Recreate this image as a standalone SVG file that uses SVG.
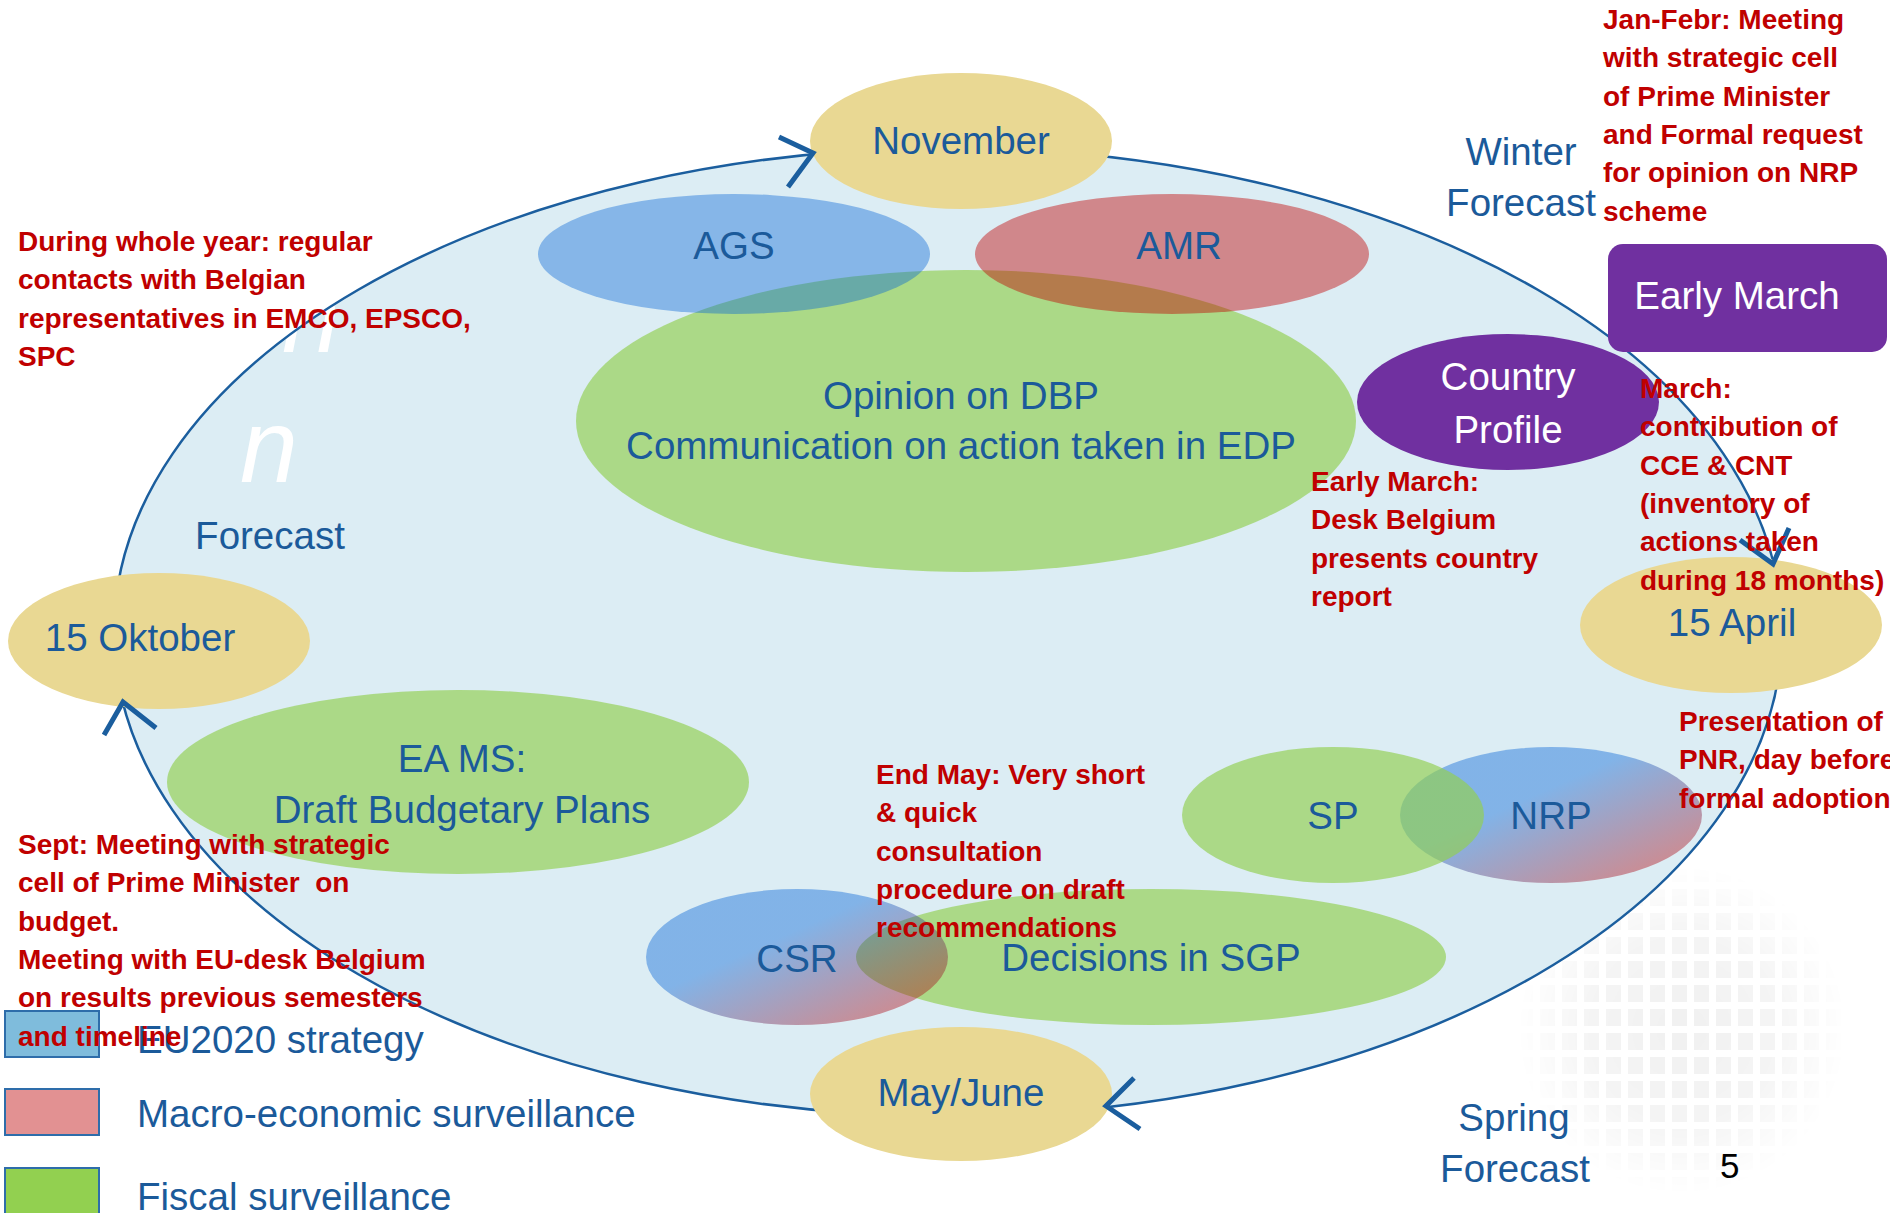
<svg xmlns="http://www.w3.org/2000/svg" width="1890" height="1213" viewBox="0 0 1890 1213">
  <defs>
    <style>
      .lbl{font-family:"Liberation Sans",Arial,sans-serif;font-size:38.5px;fill:#1B5A9A;text-anchor:middle}
      .left{text-anchor:start}
      .wht{fill:#FFFFFF}
      .note{font-family:"Liberation Sans",Arial,sans-serif;font-weight:bold;font-size:28px;fill:#C00000}
      .month{fill:#E9D893}
      .green{fill:#92D050;fill-opacity:0.67}
      .blue{fill:#0563D6;fill-opacity:0.4}
      .red{fill:#C00000;fill-opacity:0.43}
      .mix{fill:url(#mixGrad);fill-opacity:0.42}
      .purple{fill:#7030A0}
      .chev{fill:none;stroke:#1B5E9E;stroke-width:5}
      .key{stroke:#2E6DAA;stroke-width:2}
    </style>
    <linearGradient id="mixGrad" x1="0" y1="0" x2="1" y2="1">
      <stop offset="0.4" stop-color="#0563D6"/>
      <stop offset="0.9" stop-color="#C00000"/>
    </linearGradient>
    <pattern id="tiles" width="22" height="24" patternUnits="userSpaceOnUse" x="1515" y="862">
      <rect x="3" y="3" width="15" height="17" fill="#000"/>
    </pattern>
    <radialGradient id="globeFade">
      <stop offset="0" stop-color="#fff" stop-opacity="1"/>
      <stop offset="0.55" stop-color="#fff" stop-opacity="0.75"/>
      <stop offset="1" stop-color="#fff" stop-opacity="0"/>
    </radialGradient>
    <mask id="globeMask">
      <circle cx="1682" cy="1030" r="168" fill="url(#globeFade)"/>
    </mask>
  </defs>

  <rect width="1890" height="1213" fill="#FFFFFF"/>

  <!-- faint globe watermark -->
  <circle cx="1682" cy="1030" r="168" fill="url(#tiles)" opacity="0.055" mask="url(#globeMask)"/>

  <!-- annual cycle area -->
  <g id="cycle-area">
    <ellipse cx="948" cy="632" rx="834" ry="484" fill="#DCEDF4"/>
    <text x="282" y="352" font-family="Liberation Sans, Arial, sans-serif" font-style="italic" font-size="104" fill="#FFFFFF">n</text>
    <text x="240" y="482" font-family="Liberation Sans, Arial, sans-serif" font-style="italic" font-size="104" fill="#FFFFFF">n</text>
  </g>

  <!-- surveillance topics -->
  <g id="opinion-dbp">
    <ellipse class="green" cx="966" cy="421" rx="390" ry="151"/>
    <text class="lbl" x="961" y="409">Opinion on DBP</text>
    <text class="lbl" x="961" y="459">Communication on action taken in EDP</text>
  </g>
  <g id="ags">
    <ellipse class="blue" cx="734" cy="254" rx="196" ry="60"/>
    <text class="lbl" x="734" y="259">AGS</text>
  </g>
  <g id="amr">
    <ellipse class="red" cx="1172" cy="254" rx="197" ry="60"/>
    <text class="lbl" x="1179" y="259">AMR</text>
  </g>
  <g id="draft-budgetary-plans">
    <ellipse class="green" cx="458" cy="782" rx="291" ry="92"/>
    <text class="lbl" x="462" y="772">EA MS:</text>
    <text class="lbl" x="462" y="823">Draft Budgetary Plans</text>
  </g>
  <g id="decisions-sgp">
    <ellipse class="green" cx="1151" cy="957" rx="295" ry="68"/>
    <text class="lbl" x="1151" y="971">Decisions in SGP</text>
  </g>
  <g id="csr">
    <ellipse class="mix" cx="797" cy="957" rx="151" ry="68"/>
    <text class="lbl" x="797" y="972">CSR</text>
  </g>
  <g id="nrp">
    <ellipse class="mix" cx="1551" cy="815" rx="151" ry="68"/>
    <text class="lbl" x="1551" y="829">NRP</text>
  </g>
  <g id="sp">
    <ellipse class="green" cx="1333" cy="815" rx="151" ry="68"/>
    <text class="lbl" x="1333" y="829">SP</text>
  </g>

  <!-- cycle outline -->
  <g id="connectors">
    <ellipse cx="948" cy="632" rx="834" ry="484" fill="none" stroke="#1B5E9E" stroke-width="2.5"/>
  </g>

  <g id="country-profile">
    <ellipse class="purple" cx="1508" cy="402" rx="151" ry="68"/>
    <text class="lbl wht" x="1508" y="390">Country</text>
    <text class="lbl wht" x="1508" y="443">Profile</text>
  </g>
  <g id="early-march">
    <rect class="purple" x="1608" y="244" width="279" height="108" rx="15"/>
    <text class="lbl wht" x="1737" y="309">Early March</text>
  </g>

  <!-- months -->
  <g id="november">
    <ellipse class="month" cx="961" cy="141" rx="151" ry="68"/>
    <text class="lbl" x="961" y="154">November</text>
  </g>
  <g id="oktober">
    <ellipse class="month" cx="159" cy="641" rx="151" ry="68"/>
    <text class="lbl" x="140" y="651">15 Oktober</text>
  </g>
  <g id="april">
    <ellipse class="month" cx="1731" cy="625" rx="151" ry="68"/>
    <text class="lbl" x="1732" y="636">15 April</text>
  </g>
  <g id="may-june">
    <ellipse class="month" cx="961" cy="1094" rx="151" ry="67"/>
    <text class="lbl" x="961" y="1106">May/June</text>
  </g>

  <!-- arrowheads on the cycle -->
  <g id="arrowheads">
    <polyline class="chev" points="779,137 813,153 788,187"/>
    <polyline class="chev" points="1740,540 1773,564 1789,528"/>
    <polyline class="chev" points="1134,1078 1106,1106 1140,1129"/>
    <polyline class="chev" points="104,735 123,702 156,728"/>
  </g>

  <!-- forecasts -->
  <g id="forecasts">
    <text class="lbl" x="1521" y="165">Winter</text>
    <text class="lbl" x="1521" y="216">Forecast</text>
    <text class="lbl" x="270" y="549">Forecast</text>
    <text class="lbl" x="1514" y="1131">Spring</text>
    <text class="lbl" x="1515" y="1182">Forecast</text>
  </g>

  <!-- legend -->
  <g id="legend">
    <rect class="key" x="5" y="1011" width="94" height="46" fill="#7FBCDC"/>
    <rect class="key" x="5" y="1089" width="94" height="46" fill="#E29192"/>
    <rect class="key" x="5" y="1168" width="94" height="46" fill="#92D050"/>
    <text class="lbl left" x="137" y="1053">EU2020 strategy</text>
    <text class="lbl left" x="137" y="1127">Macro-economic surveillance</text>
    <text class="lbl left" x="137" y="1210">Fiscal surveillance</text>
  </g>

  <text x="1720" y="1178" font-family="Liberation Sans, Arial, sans-serif" font-size="35" fill="#000000">5</text>

  <!-- notes -->
  <g id="notes">
    <text class="note">
      <tspan x="18" y="251">During whole year: regular</tspan>
      <tspan x="18" y="289.3">contacts with Belgian</tspan>
      <tspan x="18" y="327.6">representatives in EMCO, EPSCO,</tspan>
      <tspan x="18" y="366">SPC</tspan>
    </text>
    <text class="note">
      <tspan x="1603" y="29">Jan-Febr: Meeting</tspan>
      <tspan x="1603" y="67.3">with strategic cell</tspan>
      <tspan x="1603" y="105.6">of Prime Minister</tspan>
      <tspan x="1603" y="144">and Formal request</tspan>
      <tspan x="1603" y="182.2">for opinion on NRP</tspan>
      <tspan x="1603" y="220.5">scheme</tspan>
    </text>
    <text class="note">
      <tspan x="1311" y="491">Early March:</tspan>
      <tspan x="1311" y="529.3">Desk Belgium</tspan>
      <tspan x="1311" y="567.6">presents country</tspan>
      <tspan x="1311" y="606">report</tspan>
    </text>
    <text class="note">
      <tspan x="1640" y="398">March:</tspan>
      <tspan x="1640" y="436.3">contribution of</tspan>
      <tspan x="1640" y="474.6">CCE &amp; CNT</tspan>
      <tspan x="1640" y="513">(inventory of</tspan>
      <tspan x="1640" y="551.2">actions taken</tspan>
      <tspan x="1640" y="589.5">during 18 months)</tspan>
    </text>
    <text class="note">
      <tspan x="876" y="784">End May: Very short</tspan>
      <tspan x="876" y="822.3">&amp; quick</tspan>
      <tspan x="876" y="860.6">consultation</tspan>
      <tspan x="876" y="899">procedure on draft</tspan>
      <tspan x="876" y="937">recommendations</tspan>
    </text>
    <text class="note">
      <tspan x="1679" y="731">Presentation of</tspan>
      <tspan x="1679" y="769.3">PNR, day before</tspan>
      <tspan x="1679" y="807.6">formal adoption</tspan>
    </text>
    <text class="note" xml:space="preserve"><tspan x="18" y="854">Sept: Meeting with strategic</tspan><tspan x="18" y="892.3">cell of Prime Minister  on</tspan><tspan x="18" y="930.6">budget.</tspan><tspan x="18" y="969">Meeting with EU-desk Belgium</tspan><tspan x="18" y="1007.2">on results previous semesters</tspan><tspan x="18" y="1045.5">and timeline</tspan></text>
  </g>
</svg>
